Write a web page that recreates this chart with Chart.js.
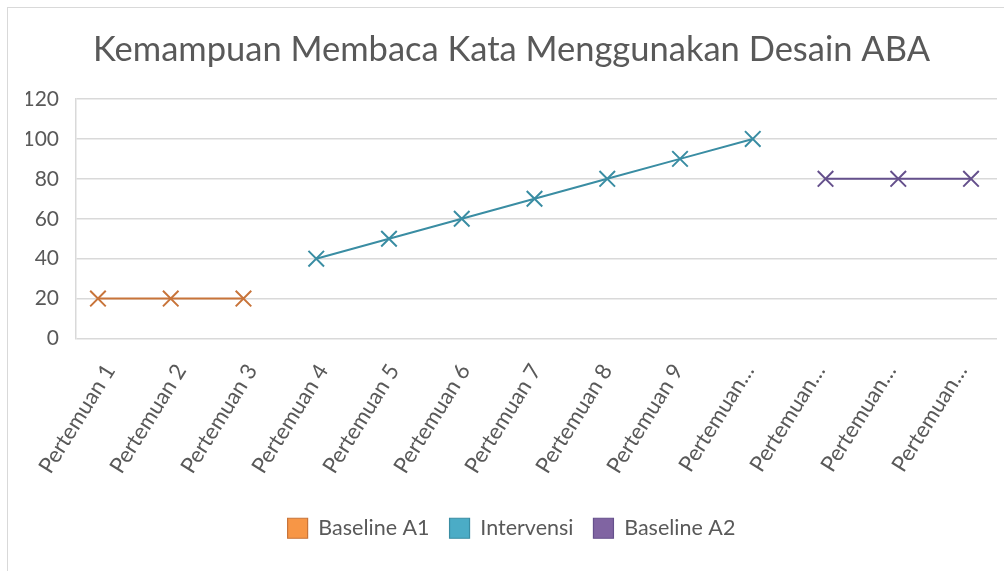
<!DOCTYPE html>
<html lang="id">
<head>
<meta charset="UTF-8" />
<title>Kemampuan Membaca Kata Menggunakan Desain ABA</title>
<script src="https://cdn.jsdelivr.net/npm/chart.js"></script>
<style>
  body {
    margin: 0;
    background: #fff;
    overflow: hidden;
  }
  #frame {
    position: absolute;
    left: 7px;
    top: 7px;
    width: 1010px;
    height: 580px;
    border: 1px solid #d9d9d9;
  }
  #chart-container {
    position: absolute;
    left: 0;
    top: 0;
    width: 996px;
    height: 563px;
  }
</style>
</head>
<body>

<div id="frame">
  <div id="chart-container">
    <canvas id="abaChart"></canvas>
  </div>
</div>

<script>
  const categories = ['Pertemuan 1', 'Pertemuan 2', 'Pertemuan 3', 'Pertemuan 4', 'Pertemuan 5',
    'Pertemuan 6', 'Pertemuan 7', 'Pertemuan 8', 'Pertemuan 9', 'Pertemuan 10',
    'Pertemuan 11', 'Pertemuan 12', 'Pertemuan 13'];
  const baselineA1 = [20, 20, 20, null, null, null, null, null, null, null, null, null, null];
  const intervensi = [null, null, null, 40, 50, 60, 70, 80, 90, 100, null, null, null];
  const baselineA2 = [null, null, null, null, null, null, null, null, null, null, 80, 80, 80];
  const yMin = 0, yMax = 120, yStep = 20;

  const textColor = '#595959';
  const fontFamily = 'Lato, "Open Sans", sans-serif';

  // category index -> x value, skipping empty slots
  function toPoints(values) {
    return values
      .map((v, i) => ({ x: i, y: v }))
      .filter(p => p.y !== null);
  }

  function series(label, values, line, fill) {
    return {
      label: label,
      data: toPoints(values),
      xAxisID: 'x',
      borderColor: line,
      backgroundColor: fill,
      borderWidth: 2,
      pointStyle: 'crossRot',
      pointRadius: 11,
      pointBorderWidth: 2,
      pointBorderColor: line,
      tension: 0,
      fill: false
    };
  }

  function categoryTicks(scale) {
    scale.ticks = categories.map((c, i) => ({ value: i }));
  }

  const ctx = document.getElementById('abaChart').getContext('2d');

  new Chart(ctx, {
    type: 'line',
    data: {
      datasets: [
        series('Baseline A1', baselineA1, '#C8743A', '#F79646'),
        series('Intervensi', intervensi, '#3A8DA3', '#4BACC6'),
        series('Baseline A2', baselineA2, '#65508C', '#8064A2')
      ]
    },
    options: {
      responsive: true,
      maintainAspectRatio: false,
      animation: false,
      layout: {
        autoPadding: false,
        padding: { left: 18, right: 7, top: 0, bottom: 22 }
      },
      scales: {
        // positions the marks
        x: {
          type: 'linear',
          display: false,
          min: -0.302,
          max: 12.357,
          afterBuildTicks: categoryTicks
        },
        // carries the category labels (Excel spaces them a bit differently)
        xLabels: {
          type: 'linear',
          position: 'bottom',
          min: -0.479,
          max: 12.493,
          afterBuildTicks: categoryTicks,
          afterFit: function(scale) {
            scale.height = 159;
            scale.paddingLeft = 0;
            scale.paddingRight = 0;
          },
          grid: { display: false, drawTicks: false },
          border: { display: false },
          ticks: {
            autoSkip: false,
            minRotation: 58,
            maxRotation: 58,
            labelOffset: 0,
            padding: 21,
            color: textColor,
            font: { family: fontFamily, size: 22 },
            callback: function(value) {
              const label = categories[value];
              return label.length > 11 ? label.slice(0, 9) + '\u2026' : label;
            }
          }
        },
        y: {
          min: yMin,
          max: yMax,
          afterFit: function(scale) {
            scale.width = 50;
          },
          grid: { color: '#d9d9d9', lineWidth: 1.5, drawTicks: false },
          border: { display: true, color: '#d9d9d9', width: 1.5 },
          ticks: {
            stepSize: yStep,
            padding: 17,
            color: textColor,
            font: { family: fontFamily, size: 21 }
          }
        }
      },
      plugins: {
        title: {
          display: true,
          text: 'Kemampuan Membaca Kata Menggunakan Desain ABA',
          color: textColor,
          font: { family: fontFamily, size: 34.5, weight: 'normal' },
          padding: { top: 21, bottom: 28.6 }
        },
        legend: {
          position: 'bottom',
          labels: {
            boxWidth: 20,
            boxHeight: 20,
            padding: 20,
            color: textColor,
            font: { family: fontFamily, size: 21.5 },
            generateLabels: function(chart) {
              const items = Chart.defaults.plugins.legend.labels.generateLabels(chart);
              items.forEach(item => { item.lineWidth = 1.2; });
              return items;
            }
          }
        },
        tooltip: { enabled: false }
      }
    }
  });
</script>

</body>
</html>
